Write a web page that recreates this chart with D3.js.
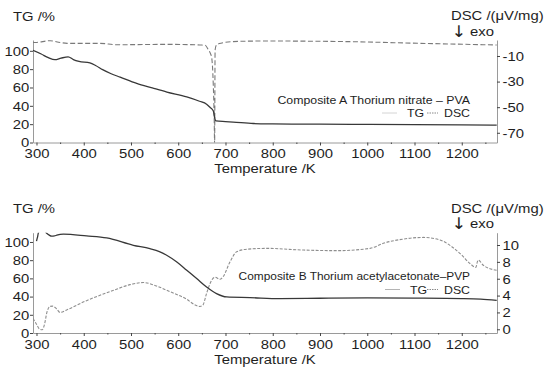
<!DOCTYPE html>
<html>
<head>
<meta charset="utf-8">
<script src="https://cdn.jsdelivr.net/npm/d3@7"></script>
<style>
body { margin: 0; background: #fff; }
svg text { font-family: "Liberation Sans", Arial, sans-serif; fill: #1e1e1e; }
</style>
</head>
<body>
<div id="chart-area"></div>
<script>
const WIDTH = 554
const HEIGHT = 372
const LEFT = 33
const RIGHT = 497
const STRETCH = 1.1

const X_DOMAIN = [292.6, 1274.6]
const xTicks = [300, 400, 500, 600, 700, 800, 900, 1000, 1100, 1200]
const xMinorTicks = [350, 450, 550, 650, 750, 850, 950, 1050, 1150, 1250]

// Composite A (thorium nitrate - PVA)
const tgA_T = [292.6, 310, 325, 339, 352, 367, 378, 390, 413, 425, 440, 458, 477, 512, 545, 576, 618, 645, 660, 668, 673, 675, 677, 680, 700, 716, 759, 800, 900, 1000, 1100, 1200, 1274]
const tgA = [100.5, 96.5, 92.5, 90.3, 92, 93.4, 90.5, 88.5, 86.8, 84, 79.5, 75, 71.3, 64.4, 59.5, 55, 49.7, 45, 41.8, 38, 35.5, 33, 27, 23.5, 22.8, 22.3, 20.7, 20.3, 20, 19.8, 19.6, 19.3, 19]
const dscA_T = [292.6, 300, 329, 350, 365, 434, 470, 576, 646, 657, 664, 668, 671, 674, 676, 677, 678, 681, 687, 695, 731, 787, 900, 963, 1112, 1274]
const dscA = [0.5, 0.6, 1.95, 0.55, -0.1, -0.1, -1.2, -0.9, -1.4, -1.6, -5.3, -8, -11.8, -31, -57.4, -79, -5.3, -1.4, -0.3, 0.4, 1.5, 1.7, 1.5, 1.2, -0.1, -1.4]
const tgTicksA = [0, 20, 40, 60, 80, 100]
const dscTicksA = [-10, -30, -50, -70]

// Composite B (thorium acetylacetonate - PVP)
const tgB_T = [300, 302, 304, 310, 316, 321.6, 327, 332, 338, 343, 357, 406, 448.6, 505, 540, 560, 575.5, 597, 618, 639, 660, 681, 702.5, 752, 815, 900, 1000, 1100, 1200, 1240, 1274]
const tgB = [101, 105, 110, 114, 113, 109.6, 107.5, 106.4, 106.6, 107.5, 108.6, 106.7, 104.5, 96.4, 92.7, 89.5, 85.4, 78, 68.9, 59.8, 50.5, 43.3, 39.6, 38.9, 37.8, 38.2, 38.5, 38.3, 37.8, 37.2, 35.9]
const dscB_T = [292.6, 300, 306, 312, 317, 322, 328, 334, 343, 350, 364, 406, 462, 498, 526, 554, 582.5, 618, 635, 646, 652, 660, 671, 678, 688, 695, 709.5, 723.7, 745, 787, 865, 935, 1006, 1034, 1076, 1118.6, 1154, 1179, 1200, 1217.5, 1230, 1233, 1235, 1245.6, 1274]
const dscB = [1.3, 0.6, 0.05, -0.05, 0.6, 2.0, 2.7, 2.75, 2.4, 2.0, 2.3, 3.4, 4.6, 5.3, 5.55, 5.14, 4.46, 3.56, 2.9, 2.7, 2.85, 4.27, 5.85, 6.17, 5.93, 6.24, 8.0, 9.2, 9.5, 9.6, 9.4, 9.33, 9.6, 10.2, 10.7, 10.9, 10.6, 9.8, 8.8, 7.8, 7.35, 8.0, 8.2, 7.6, 7.0]
const tgTicksB = [0, 20, 40, 60, 80, 100]
const dscTicksB = [0, 2, 4, 6, 8, 10]

const svg = d3.select('#chart-area').append('svg')
	.attr('width', WIDTH)
	.attr('height', HEIGHT)

const x = d3.scaleLinear()
	.domain(X_DOMAIN)
	.range([LEFT, RIGHT])

// text a little wider than the font, like the scanned figure
function label(g, px, py, str, size, anchor) {
	return g.append('text')
		.attr('transform', `translate(${px}, ${py}) scale(${STRETCH}, 1)`)
		.attr('text-anchor', anchor || 'start')
		.attr('font-size', size + 'px')
		.text(str)
}

function drawPanel(p) {
	const g = svg.append('g')

	const yTG = d3.scaleLinear().domain(p.tgDomain).range([p.bottom, p.top])
	const yDSC = d3.scaleLinear().domain(p.dscDomain).range([p.bottom, p.top])

	// clip
	g.append('clipPath').attr('id', 'clip-' + p.id)
		.append('rect')
		.attr('x', LEFT).attr('y', p.top)
		.attr('width', RIGHT - LEFT).attr('height', p.bottom - p.top)

	// axes
	g.append('g')
		.attr('transform', `translate(0, ${p.bottom})`)
		.call(d3.axisBottom(x).tickValues(xTicks).tickSize(3).tickSizeOuter(0).tickPadding(3).tickFormat(d => d))

	g.append('g')
		.attr('transform', `translate(0, ${p.bottom})`)
		.call(d3.axisBottom(x).tickValues(xMinorTicks).tickSize(1.5).tickFormat(''))
		.select('.domain').remove()

	g.append('g')
		.attr('transform', `translate(${LEFT}, 0)`)
		.call(d3.axisLeft(yTG).tickValues(p.tgTicks).tickSize(3).tickSizeOuter(0).tickPadding(0.5))

	g.append('g')
		.attr('transform', `translate(${RIGHT}, 0)`)
		.call(d3.axisRight(yDSC).tickValues(p.dscTicks).tickSize(3).tickSizeOuter(0).tickPadding(2).tickFormat(d => d))

	g.selectAll('.domain').attr('stroke', '#9a9a9a')
	g.selectAll('.tick line').attr('stroke', '#444')
	g.selectAll('.tick text')
		.attr('fill', '#1e1e1e')
		.attr('font-size', '13.5px')
		.attr('transform', `scale(${STRETCH}, 1)`)
		.style('font-family', '"Liberation Sans", Arial, sans-serif')

	// curves
	const lineTG = d3.line()
		.x((d, i) => x(p.tgT[i]))
		.y(d => yTG(d))
		.curve(d3.curveMonotoneX)
	const lineDSC = d3.line()
		.x((d, i) => x(p.dscT[i]))
		.y(d => yDSC(d))
		.curve(d3.curveMonotoneX)

	const curves = g.append('g').attr('clip-path', `url(#clip-${p.id})`)
	curves.append('path')
		.attr('d', lineDSC(p.dsc))
		.attr('fill', 'none')
		.attr('stroke', p.dscColor)
		.attr('stroke-width', 1.1)
		.attr('stroke-dasharray', p.dscDash)
	curves.append('path')
		.attr('d', lineTG(p.tg))
		.attr('fill', 'none')
		.attr('stroke', '#383838')
		.attr('stroke-width', 1.3)

	// axis titles
	label(g, 13, p.top - 19.5, 'TG /%', 13.5)
	label(g, 451, p.top - 20, 'DSC /(\u03bcV/mg)', 13.5)
	label(g, 451.5, p.top - 3.5, '\u2193', 16).style('font-family', '"DejaVu Sans", sans-serif')
	label(g, 470, p.top - 4.5, 'exo', 13.5)
	label(g, (LEFT + RIGHT) / 2, p.bottom + 30.5, 'Temperature /K', 13.5, 'middle')

	// legend
	label(g, 470, p.legendY, p.name, p.nameSize, 'end')
	const ly = p.legendY + 13.5
	g.append('line')
		.attr('x1', p.tgLegX - 25).attr('x2', p.tgLegX - 10)
		.attr('y1', ly - 4).attr('y2', ly - 4)
		.attr('stroke', p.legTGColor).attr('stroke-width', 1)
	label(g, p.tgLegX, ly, 'TG', 11.2)
	g.append('line')
		.attr('x1', 427).attr('x2', 438)
		.attr('y1', ly - 4).attr('y2', ly - 4)
		.attr('stroke', '#888').attr('stroke-width', 1)
		.attr('stroke-dasharray', '1.5,1')
	label(g, 470, ly, 'DSC', 11.2, 'end')
}

drawPanel({
	id: 'a', top: 40, bottom: 142.5,
	tgDomain: [0, 111.8], dscDomain: [-77.6, 2.5],
	tgTicks: tgTicksA, dscTicks: dscTicksA,
	tgT: tgA_T, tg: tgA, dscT: dscA_T, dsc: dscA,
	dscColor: '#7a7a7a', dscDash: '5,2.5',
	name: 'Composite A Thorium nitrate \u2013 PVA', nameSize: 11.2,
	legendY: 103.5, tgLegX: 407, legTGColor: '#d4d4d4'
})

drawPanel({
	id: 'b', top: 232.7, bottom: 333,
	tgDomain: [0, 110.2], dscDomain: [-0.44, 11.46],
	tgTicks: tgTicksB, dscTicks: dscTicksB,
	tgT: tgB_T, tg: tgB, dscT: dscB_T, dsc: dscB,
	dscColor: '#8e8e8e', dscDash: '3,1.5',
	name: 'Composite B Thorium acetylacetonate\u2013PVP', nameSize: 10.8,
	legendY: 280, tgLegX: 410, legTGColor: '#b4b4b4'
})
</script>
</body>
</html>
